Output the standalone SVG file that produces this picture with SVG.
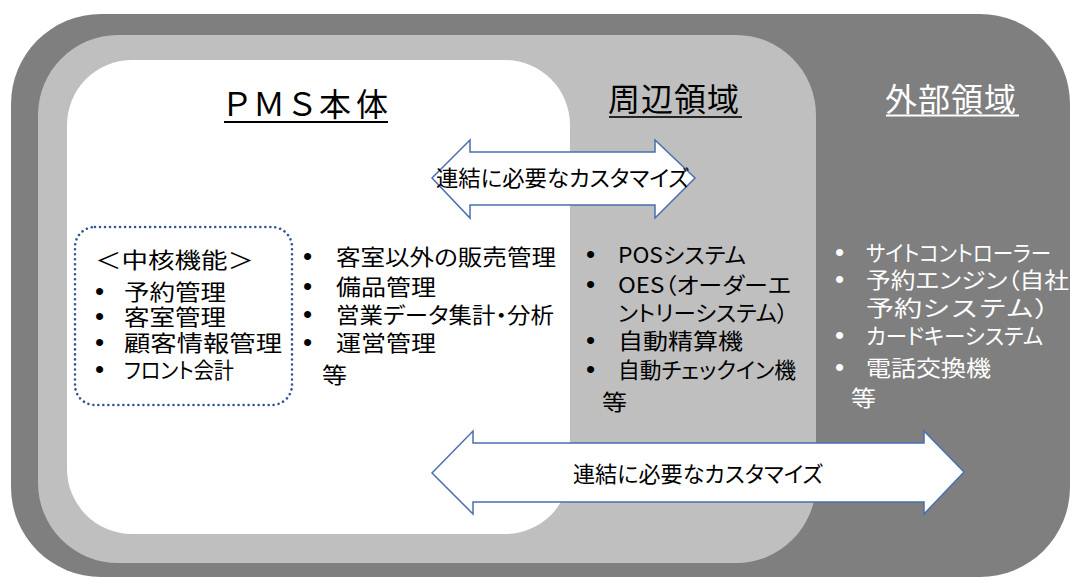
<svg xmlns="http://www.w3.org/2000/svg" width="1072" height="577" viewBox="0 0 1072 577">
<style>
text{font-family:"Noto Sans CJK JP","Noto Sans CJK SC",sans-serif;font-feature-settings:"palt" 1;fill:#000}
.t{font-size:32px}
.b{font-size:22px}
.np{font-feature-settings:normal}
.w{fill:#fff}
.bul{font-family:"Liberation Sans",Arial,sans-serif;font-size:26px;font-feature-settings:normal}
.arrow{fill:#fff;stroke:#4a6fb0;stroke-width:1.5;stroke-linejoin:miter}
.at{font-size:22px}
</style>
<rect width="1072" height="577" fill="#fff"/>
<g id="outer">
<rect x="11" y="14" width="1059" height="563" rx="90" fill="#7f7f7f"/>
<text class="t w" x="885" y="111" textLength="131">外部領域</text>
<line x1="886" y1="115.5" x2="1019" y2="115.5" stroke="#fff" stroke-width="2"/>
<text class="bul w" x="835" y="261">•</text><text class="b w" x="866" y="261" textLength="185" lengthAdjust="spacingAndGlyphs">サイトコントローラー</text>
<text class="bul w" x="835" y="288">•</text><text class="b w" x="866" y="288" textLength="203" lengthAdjust="spacingAndGlyphs">予約エンジン（自社</text>
<text class="b w np" x="866" y="316" textLength="196" lengthAdjust="spacingAndGlyphs">予約システム）</text>
<text class="bul w" x="835" y="344">•</text><text class="b w" x="866" y="344" textLength="177" lengthAdjust="spacingAndGlyphs">カードキーシステム</text>
<text class="bul w" x="835" y="376">•</text><text class="b w" x="866" y="376" textLength="125" lengthAdjust="spacingAndGlyphs">電話交換機</text>
<text class="b w" x="851" y="406" textLength="25" lengthAdjust="spacingAndGlyphs">等</text>
</g>
<g id="periphery">
<rect x="38" y="35" width="778" height="528" rx="80" fill="#bfbfbf"/>
<text class="t" x="608" y="111" textLength="131">周辺領域</text>
<line x1="609" y1="117" x2="742" y2="117" stroke="#262626" stroke-width="2"/>
<text class="bul" x="586" y="263">•</text><text class="b" x="618" y="263" textLength="128" lengthAdjust="spacingAndGlyphs">POSシステム</text>
<text class="bul" x="586" y="293">•</text><text class="b" x="618" y="293" textLength="173" lengthAdjust="spacingAndGlyphs">OES（オーダーエ</text>
<text class="b" x="618" y="321" textLength="170" lengthAdjust="spacingAndGlyphs">ントリーシステム）</text>
<text class="bul" x="586" y="349">•</text><text class="b" x="618" y="349" textLength="125" lengthAdjust="spacingAndGlyphs">自動精算機</text>
<text class="bul" x="586" y="378">•</text><text class="b" x="618" y="378" textLength="178" lengthAdjust="spacingAndGlyphs">自動チェックイン機</text>
<text class="b" x="602" y="410" textLength="25" lengthAdjust="spacingAndGlyphs">等</text>
</g>
<g id="pms">
<rect x="67" y="60" width="503" height="474" rx="65" fill="#fff"/>
<text class="t" x="224" y="116" textLength="164">ＰＭＳ本体</text>
<line x1="224" y1="122" x2="388" y2="122" stroke="#000" stroke-width="2"/>
<text class="bul" x="303" y="265">•</text><text class="b" x="336" y="265" textLength="220" lengthAdjust="spacingAndGlyphs">客室以外の販売管理</text>
<text class="bul" x="303" y="295">•</text><text class="b" x="336" y="295" textLength="100" lengthAdjust="spacingAndGlyphs">備品管理</text>
<text class="bul" x="303" y="323">•</text><text class="b" x="336" y="323" textLength="218" lengthAdjust="spacingAndGlyphs">営業データ集計・分析</text>
<text class="bul" x="303" y="351">•</text><text class="b" x="336" y="351" textLength="100" lengthAdjust="spacingAndGlyphs">運営管理</text>
<text class="b" x="322" y="383" textLength="25" lengthAdjust="spacingAndGlyphs">等</text>
</g>
<g id="core">
<rect x="75" y="227" width="217" height="178" rx="20" fill="none" stroke="#2f5597" stroke-width="2.6" stroke-dasharray="0.01 5" stroke-linecap="round"/>
<text class="b np" x="95" y="268" textLength="159" lengthAdjust="spacingAndGlyphs">＜中核機能＞</text>
<text class="bul" x="95" y="300">•</text><text class="b" x="124" y="300" textLength="102" lengthAdjust="spacingAndGlyphs">予約管理</text>
<text class="bul" x="95" y="325">•</text><text class="b" x="124" y="325" textLength="102" lengthAdjust="spacingAndGlyphs">客室管理</text>
<text class="bul" x="95" y="351">•</text><text class="b" x="124" y="351" textLength="158" lengthAdjust="spacingAndGlyphs">顧客情報管理</text>
<text class="bul" x="95" y="378">•</text><text class="b" x="124" y="378" textLength="110" lengthAdjust="spacingAndGlyphs">フロント会計</text>
</g>
<g id="connectors">
<g id="arrow-top">
<polygon class="arrow" points="432,178 470,140 470,152 655,152 655,140 695,178 655,218 655,205 470,205 470,218"/>
<text class="at" x="436" y="186" textLength="253" lengthAdjust="spacingAndGlyphs">連結に必要なカスタマイズ</text>
</g>
<g id="arrow-bottom">
<polygon class="arrow" points="432,473 473,431 473,443 924,443 924,431 964,472 924,514 924,502 473,502 473,514"/>
<text class="at" x="573" y="482" textLength="250" lengthAdjust="spacingAndGlyphs">連結に必要なカスタマイズ</text>
</g>
</g>
</svg>
